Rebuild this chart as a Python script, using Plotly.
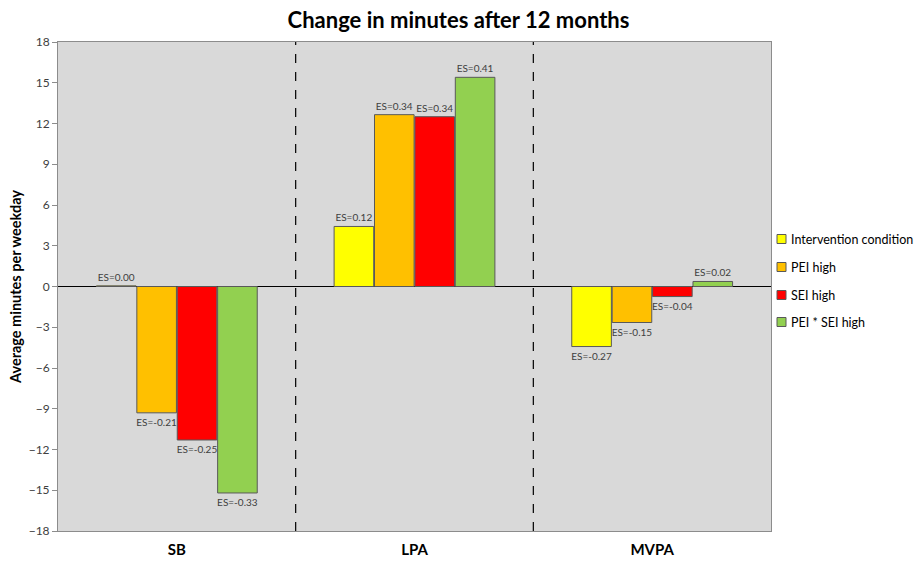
import plotly.graph_objects as go

categories = ["SB", "LPA", "MVPA"]
series_names = ["Intervention condition", "PEI high", "SEI high", "PEI * SEI high"]
colors = ["#FFFF00", "#FFC000", "#FF0000", "#92D050"]
values = {
    "Intervention condition": [0.05, 4.42, -4.42],
    "PEI high": [-9.3, 12.65, -2.65],
    "SEI high": [-11.3, 12.5, -0.74],
    "PEI * SEI high": [-15.2, 15.4, 0.37],
}
es_labels = {
    "Intervention condition": ["ES=0.00", "ES=0.12", "ES=-0.27"],
    "PEI high": ["ES=-0.21", "ES=0.34", "ES=-0.15"],
    "SEI high": ["ES=-0.25", "ES=0.34", "ES=-0.04"],
    "PEI * SEI high": ["ES=-0.33", "ES=0.41", "ES=0.02"],
}
y_ticks = list(range(-18, 19, 3))

FONT = "Lato, 'Open Sans', sans-serif"
W, H = 917, 562
ML, MR, MT, MB = 58, 146, 42, 31
PW, PH = W - ML - MR, H - MT - MB

def px_x(px):
    return (px - ML) / PW

def px_y(py):
    return (H - MB - py) / PH

fig = go.Figure()
for name, col in zip(series_names, colors):
    fig.add_trace(go.Bar(
        x=categories, y=values[name], name=name,
        marker=dict(color=col, line=dict(color="#595959", width=1)),
        text=es_labels[name], textposition="outside", constraintext="none",
        textfont=dict(size=10, color="#404040", family=FONT),
        cliponaxis=False, showlegend=False,
    ))

for xb in [0.5, 1.5]:
    fig.add_shape(type="line", xref="x", yref="paper", x0=xb, x1=xb, y0=0, y1=1,
                  line=dict(color="black", width=1.2, dash="dash"))

# manual legend (compact, like the reference)
legend_rows = [239, 267, 295, 322]
for name, col, ry in zip(series_names, colors, legend_rows):
    fig.add_shape(type="rect", xref="paper", yref="paper",
                  x0=px_x(777), x1=px_x(786), y0=px_y(ry + 4.5), y1=px_y(ry - 4.5),
                  fillcolor=col, line=dict(color="#595959", width=1))
    fig.add_annotation(xref="paper", yref="paper", x=px_x(789), y=px_y(ry),
                       xanchor="left", yanchor="middle", showarrow=False,
                       text=name, font=dict(size=12.5, color="black", family=FONT))

fig.update_layout(
    width=W, height=H,
    margin=dict(l=ML, r=MR, t=MT, b=MB, autoexpand=False),
    paper_bgcolor="white", plot_bgcolor="#D9D9D9",
    barmode="group", bargap=0.32, bargroupgap=0.02,
    title=dict(text="<b>Change in minutes after 12 months</b>", x=0.5, xanchor="center",
               y=0.963, yanchor="middle", font=dict(size=22, family=FONT, color="black")),
    font=dict(family=FONT, size=12, color="#404040"),
    showlegend=False,
    xaxis=dict(showgrid=False, showline=True, linecolor="#8C8C8C", mirror=True,
               tickfont=dict(size=15, color="black", family=FONT),
               ticks="", automargin=False, ticklabelstandoff=5),
    yaxis=dict(range=[-18, 18], tickvals=y_ticks, showgrid=False,
               showline=True, linecolor="#8C8C8C", mirror=True,
               ticks="outside", ticklen=5, tickcolor="#8C8C8C",
               zeroline=True, zerolinecolor="black", zerolinewidth=1,
               automargin=False,
               tickfont=dict(size=12, color="#404040", family=FONT),
               title=dict(text="<b>Average minutes per weekday</b>",
                          font=dict(size=14.5, color="black", family=FONT), standoff=3)),
)
fig.update_xaxes(tickprefix="<b>", ticksuffix="</b>")

fig.write_html("out.html", post_script="document.body.style.margin='0';",
               config={"displayModeBar": False})
